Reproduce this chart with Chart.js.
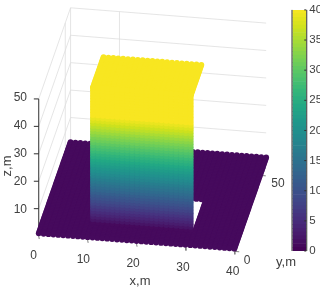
<!DOCTYPE html>
<html><head><meta charset="utf-8">
<style>html,body{margin:0;padding:0;background:#fff}#w{position:relative;width:322px;height:288px;overflow:hidden}canvas{position:absolute}</style>
<script src="https://cdn.jsdelivr.net/npm/chart.js@4"></script>
</head><body><div id="w"><canvas id="main" width="322" height="288" style="left:0;top:0"></canvas><canvas id="bar" width="42" height="288" style="left:280px;top:0"></canvas></div>
<script>
// ---- data ----
const xValues=[0,1,2,3,4,5,6,7,8,9,10,11,12,13,14,15,16,17,18,19,20,21,22,23,24,25,26,27,28,29,30,31,32,33,34,35,36,37,38,39,40];
const yValues=[0,1,2,3,4,5,6,7,8,9,10,11,12,13,14,15,16,17,18,19,20,21,22,23,24,25,26,27,28,29,30,31,32,33,34,35,36,37,38,39,40,41,42,43,44,45,46,47,48,49,50,51,52,53,54,55,56,57,58,59,60];
const zValues=[1,2,3,4,5,6,7,8,9,10,11,12,13,14,15,16,17,18,19,20,21,22,23,24,25,26,27,28,29,30,31,32,33,34,35,36,37,38,39,40,41,42,43,44,45,46,47,48,49,50];
const floorZ=1, boxX=[10,30], boxY=[10,30], boxTop=50;
const xTicks=[0,10,20,30,40], yTicks=[0,50], zTicks=[10,20,30,40,50];
const xGridLines=[10], yGridLines=[50,60], zGridLines=[10,20,30,40,50];
const colorTicks=[0,5,10,15,20,25,30,35,40];
const colorLevels=[0,0.625,1.25,1.875,2.5,3.125,3.75,4.375,5,5.625,6.25,6.875,7.5,8.125,8.75,9.375,10,10.625,11.25,11.875,12.5,13.125,13.75,14.375,15,15.625,16.25,16.875,17.5,18.125,18.75,19.375,20,20.625,21.25,21.875,22.5,23.125,23.75,24.375,25,25.625,26.25,26.875,27.5,28.125,28.75,29.375,30,30.625,31.25,31.875,32.5,33.125,33.75,34.375,35,35.625,36.25,36.875,37.5,38.125,38.75,39.375,40];
const viridis=[[68,1,84],[72,26,108],[71,47,125],[65,68,135],[57,86,140],[49,104,142],[42,120,142],[35,137,142],[31,152,139],[34,168,132],[53,183,121],[84,197,104],[122,209,81],[165,219,54],[210,226,27],[248,230,33]];
const TEXT='#404040', AXIS='#303030', GRID='#dedede';
// ---- view (orthographic camera of the original 3-D axes) ----
const O=[36.5,238], ex=[4.98,0.39], ey=[0.54,-1.55], ez=[0,-2.8];
const px=(x,y,z)=>O[0]+x*ex[0]+y*ey[0]+z*ez[0];
const py=(x,y,z)=>O[1]+x*ex[1]+y*ey[1]+z*ez[1];
const pt=(x,y,z)=>({x:px(x,y,z),y:py(x,y,z)});
function cmap(v){const t=Math.max(0,Math.min(1,v/40))*(viridis.length-1);const i=Math.min(viridis.length-2,Math.floor(t)),f=t-i;
  const a=viridis[i],b=viridis[i+1];return `rgb(${a.map((c,k)=>Math.round(c+(b[k]-c)*f)).join(',')})`;}
// ---- marks ----
const floorPts=[],facePts=[],topPts=[];
for(const y of [...yValues].reverse())for(const x of xValues){
  const inBox=x>=boxX[0]&&x<=boxX[1]&&y>=boxY[0]&&y<=boxY[1];
  if(inBox)topPts.push(pt(x,y,boxTop));
  if(!inBox||y===boxY[1])floorPts.push(pt(x,y,floorZ));
}
const faceColors=[];
for(const z of zValues)for(const x of xValues){
  if(x>=boxX[0]&&x<=boxX[1]){facePts.push(pt(x,boxY[0],z));faceColors.push(cmap(z));}
}
const R=2.9;
const ds=(data,color)=>({type:'scatter',data,backgroundColor:color,pointBackgroundColor:color,pointRadius:R,pointBorderWidth:0,borderWidth:0,pointHoverRadius:R,showLine:false});
const line=(a,b,c,w)=>({type:'scatter',data:[a,b],showLine:true,borderColor:c,borderWidth:w,pointRadius:0,backgroundColor:c});
const datasets=[];
for(const z of zGridLines){datasets.push(line(pt(0,0,z),pt(0,60,z),GRID,0.8));datasets.push(line(pt(0,60,z),pt(40,60,z),GRID,0.8));}
for(const x of xGridLines)datasets.push(line(pt(x,60,0),pt(x,60,50),GRID,0.8));
for(const y of yGridLines)datasets.push(line(pt(0,y,0),pt(0,y,50),GRID,0.8));
datasets.push(line(pt(0,0,0),pt(0,0,50),AXIS,1));
for(const z of zTicks){const p=pt(0,0,z);datasets.push(line(p,{x:p.x-5,y:p.y},AXIS,1));}
for(const x of xTicks){const p=pt(x,0,0);datasets.push(line(p,{x:p.x+0.5,y:p.y+3},'#808080',1));}
for(const y of yTicks){const p=pt(40,y,0);datasets.push(line(p,{x:p.x+5,y:p.y+0.4},'#808080',1));}
datasets.push(ds(floorPts,cmap(floorZ)));
datasets.push(ds(topPts,cmap(boxTop)));
datasets.push(ds(facePts,faceColors));
datasets.reverse(); // Chart.js paints the first dataset last

const labels3d={id:'labels3d',afterDraw(c){
  const g=c.ctx;g.save();g.fillStyle=TEXT;g.font='12px "Liberation Sans"';g.textBaseline='middle';
  g.textAlign='right';
  for(const z of zTicks){const p=pt(0,0,z);g.fillText(String(z),p.x-9.5,p.y);}
  g.textAlign='center';
  for(const x of xTicks){const p=pt(x,0,0);g.fillText(String(x),p.x-3,p.y+18);}
  g.fillText(String(yTicks[0]),247,261);
  g.fillText(String(yTicks[1]),278,184);
  g.font='13px "Liberation Sans"';
  g.fillText('x,m',140,281);
  g.fillText('y,m',286,262);
  g.translate(7,166);g.rotate(-Math.PI/2);g.fillText('z,m',0,0);
  g.restore();
}};
Chart.defaults.animation=false;
new Chart(document.getElementById('main'),{type:'scatter',data:{datasets},plugins:[labels3d],options:{
  responsive:false,events:[],layout:{padding:0},
  plugins:{legend:{display:false},tooltip:{enabled:false}},
  scales:{x:{type:'linear',display:false,min:0,max:322},y:{type:'linear',display:false,min:0,max:288,reverse:true}}
}});
// ---- colourbar ----
const barSets=colorLevels.slice(0,-1).map((lo,i)=>({data:[[lo,colorLevels[i+1]]],backgroundColor:cmap((lo+colorLevels[i+1])/2),borderWidth:0,barPercentage:1,categoryPercentage:1,grouped:false}));
const barFrame={id:'barFrame',afterDraw(c){
  const g=c.ctx,a=c.chartArea,s=c.scales.y;g.save();g.strokeStyle=AXIS;g.lineWidth=1;g.beginPath();
  g.moveTo(a.left-0.5,a.top);g.lineTo(a.left-0.5,a.bottom);
  g.moveTo(a.right+0.5,a.top);g.lineTo(a.right+0.5,a.bottom);
  for(const v of colorTicks){const p=s.getPixelForValue(v);g.moveTo(a.right,p);g.lineTo(a.right-2,p);}
  g.stroke();g.restore();
}};
new Chart(document.getElementById('bar'),{type:'bar',data:{labels:['c'],datasets:barSets},plugins:[barFrame],options:{
  responsive:false,events:[],layout:{padding:{left:12.5,top:5,bottom:37,right:2}},
  plugins:{legend:{display:false},tooltip:{enabled:false}},
  scales:{x:{display:false},
    y:{position:'right',min:0,max:40,afterBuildTicks(a){a.ticks=colorTicks.map(v=>({value:v}));},
       border:{display:false},grid:{display:false,drawTicks:false},
       ticks:{color:TEXT,font:{family:'"Liberation Sans"',size:11.5},padding:3,maxRotation:0,autoSkip:false}}}
}});
</script>
</body></html>
